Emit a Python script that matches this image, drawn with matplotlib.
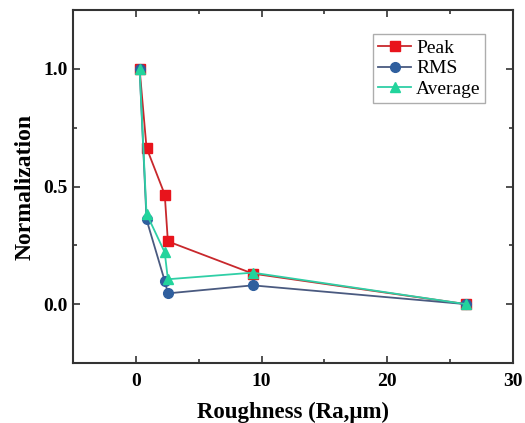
import matplotlib
matplotlib.use("Agg")
import matplotlib.pyplot as plt
from matplotlib.ticker import MultipleLocator

# Surface roughness (Ra, µm) and normalized signal metrics
roughness = [0.3, 0.85, 2.3, 2.55, 9.3, 26.3]
peak = [1.0, 0.665, 0.466, 0.267, 0.13, 0.0]
rms = [1.0, 0.36, 0.099, 0.046, 0.08, 0.0]
average = [1.0, 0.385, 0.22, 0.106, 0.134, 0.0]

series = [
    ("Peak", peak, "s", "#e8141c", "#c8282c"),
    ("RMS", rms, "o", "#2f5f9e", "#4a5a80"),
    ("Average", average, "^", "#22d49c", "#2fcfa6"),
]

plt.rcParams["font.family"] = ["Liberation Serif", "DejaVu Serif"]

fig = plt.figure(figsize=(5.25, 4.23), dpi=100)
ax = fig.add_axes([0.139, 0.1418, 0.838, 0.8345])

for name, vals, mk, mcol, lcol in series:
    ax.plot(roughness, vals, color=lcol, lw=1.3, marker=mk, ms=7,
            markerfacecolor=mcol, markeredgecolor=mcol, label=name)

ax.set_xlim(-5, 30)
ax.set_ylim(-0.25, 1.25)
ax.xaxis.set_major_locator(MultipleLocator(10))
ax.xaxis.set_minor_locator(MultipleLocator(5))
ax.yaxis.set_major_locator(MultipleLocator(0.5))
ax.yaxis.set_minor_locator(MultipleLocator(0.25))
ax.yaxis.set_major_formatter(plt.FuncFormatter(lambda v, p: f"{v:.1f}"))

ax.tick_params(which="both", direction="in", top=True, right=True,
               labelsize=14, width=1.2, color="#333333")
ax.tick_params(which="major", length=5)
ax.tick_params(which="minor", length=3)
ax.tick_params(axis="x", which="major", pad=7)
for lab in ax.get_xticklabels() + ax.get_yticklabels():
    lab.set_fontweight("bold")
for sp in ax.spines.values():
    sp.set_linewidth(1.5)
    sp.set_color("#333333")

ax.set_xlabel("Roughness (Ra,\u03bcm)", fontsize=16.5, fontweight="bold", labelpad=9)
ax.set_ylabel("Normalization", fontsize=17, fontweight="bold", labelpad=6)

leg = ax.legend(loc="upper right", bbox_to_anchor=(0.946, 0.942), fontsize=14,
                frameon=True, fancybox=False, edgecolor="#999999",
                handlelength=1.7, borderpad=0.25, labelspacing=0.15,
                handletextpad=0.25, borderaxespad=0.2)
leg.get_frame().set_linewidth(1.0)

fig.savefig("out.png", dpi=100)
